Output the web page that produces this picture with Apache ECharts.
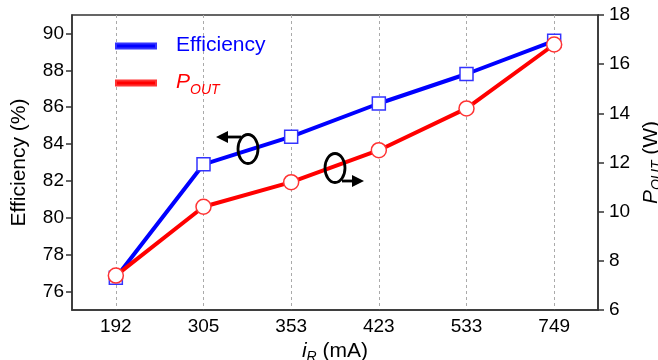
<!DOCTYPE html>
<html lang="en">
<head>
    <meta charset="UTF-8">
    <title>Efficiency and POUT vs iR</title>
    <script type="text/javascript" src="https://cdn.jsdelivr.net/npm/echarts@6/dist/echarts.min.js"></script>
    <style>
        html, body { margin: 0; padding: 0; background: #fff; }
        #main { width: 658px; height: 360px; }
    </style>
</head>
<body>
<div id="main"></div>
<script type="text/javascript">
    // data
    var currents = ['192', '305', '353', '423', '533', '749'];
    var efficiency = [76.75, 82.9, 84.4, 86.2, 87.8, 89.6];
    var pout = [7.4, 10.2, 11.2, 12.5, 14.2, 16.8];
    var effTicks = [76, 78, 80, 82, 84, 86, 88, 90];

    var font = 'Liberation Sans, Arial, sans-serif';
    var mychart = echarts.init(document.getElementById('main'));

    var subRich = {
        it: { fontFamily: font, fontSize: 21, fontStyle: 'italic', color: '#000', verticalAlign: 'top', lineHeight: 22 },
        sub: { fontFamily: font, fontSize: 14, fontStyle: 'italic', color: '#000', verticalAlign: 'top', lineHeight: 14, padding: [9, 0, 0, 0] },
        n: { fontFamily: font, fontSize: 21, color: '#000', verticalAlign: 'top', lineHeight: 22 }
    };

    var option = {
        backgroundColor: '#fff',
        animation: false,
        grid: {
            left: 72, right: 60, top: 15, bottom: 50,
            outerBoundsMode: 'none',
            containLabel: false,
            show: true, borderColor: '#333', borderWidth: 1.5, backgroundColor: 'transparent'
        },
        legend: {
            orient: 'vertical',
            left: 110, top: 30,
            itemWidth: 40, itemHeight: 5,
            itemGap: 16,
            icon: 'rect',
            data: [
                { name: 'Efficiency', itemStyle: { color: '#0000ff' }, textStyle: { color: '#0000ff' } },
                { name: 'POUT', itemStyle: { color: '#ff0000' }, textStyle: { color: '#ff0000' } }
            ],
            formatter: function (name) {
                if (name === 'POUT') return '{p|P}{s|OUT}';
                return '{e|Efficiency}';
            },
            textStyle: {
                padding: [0, 0, 0, 15],
                rich: {
                    e: { fontFamily: font, fontSize: 21, color: '#0000ff', verticalAlign: 'top', lineHeight: 22 },
                    p: { fontFamily: font, fontSize: 21, fontStyle: 'italic', color: '#ff0000', verticalAlign: 'top', lineHeight: 22 },
                    s: { fontFamily: font, fontSize: 14, fontStyle: 'italic', color: '#ff0000', verticalAlign: 'top', lineHeight: 14, padding: [11, 0, 0, 0] }
                }
            }
        },
        xAxis: {
            type: 'category',
            data: currents,
            boundaryGap: true,
            name: '{it|i}{sub|R}{n| (mA)}',
            nameLocation: 'middle',
            nameGap: 26,
            nameTextStyle: { rich: subRich },
            axisLine: { lineStyle: { color: '#333', width: 1.5 } },
            axisTick: { alignWithLabel: true, length: 5, lineStyle: { color: '#333', width: 1.5 } },
            axisLabel: { fontFamily: font, fontSize: 19, color: '#000', margin: 7 },
            splitLine: { show: true, alignWithLabel: true, lineStyle: { color: '#aaa', type: [3, 3], width: 1 } }
        },
        yAxis: [
            {
                type: 'value',
                min: 75, max: 91,
                position: 'left',
                name: 'Efficiency (%)',
                nameLocation: 'middle',
                nameRotate: 90,
                nameGap: 42,
                nameTextStyle: { fontFamily: font, fontSize: 21, color: '#000' },
                axisLine: { show: true, lineStyle: { color: '#333', width: 1.5 } },
                axisTick: { show: true, length: 6, customValues: effTicks, lineStyle: { color: '#333', width: 1.5 } },
                axisLabel: { fontFamily: font, fontSize: 19, color: '#000', margin: 8, customValues: effTicks },
                splitLine: { show: false }
            },
            {
                type: 'value',
                min: 6, max: 18, interval: 2,
                position: 'right',
                name: '{it|P}{sub|OUT}{n| (W)}',
                nameLocation: 'middle',
                nameRotate: 90,
                nameGap: 37,
                nameTextStyle: { rich: subRich },
                axisLine: { show: true, lineStyle: { color: '#333', width: 1.5 } },
                axisTick: { show: true, length: 6, lineStyle: { color: '#333', width: 1.5 } },
                axisLabel: { fontFamily: font, fontSize: 19, color: '#000', margin: 11 },
                splitLine: { show: false }
            }
        ],
        series: [
            {
                name: 'Efficiency',
                type: 'line',
                yAxisIndex: 0,
                data: efficiency,
                symbol: 'rect',
                symbolSize: 13,
                showAllSymbol: true,
                lineStyle: { color: '#0000ff', width: 4 },
                itemStyle: { color: '#fff', borderColor: '#3333ff', borderWidth: 1.5 },
                emphasis: { disabled: true },
                z: 2
            },
            {
                name: 'POUT',
                type: 'line',
                yAxisIndex: 1,
                data: pout,
                symbol: 'circle',
                symbolSize: 15,
                showAllSymbol: true,
                lineStyle: { color: '#ff0000', width: 4 },
                itemStyle: { color: '#fff', borderColor: '#ff3333', borderWidth: 1.5 },
                emphasis: { disabled: true },
                z: 3
            }
        ],
        graphic: [
            // arrow pointing to the left axis
            { type: 'ellipse', shape: { cx: 248, cy: 149, rx: 10, ry: 14.5 }, style: { fill: 'none', stroke: '#000', lineWidth: 2.8 }, z: 10 },
            { type: 'polyline', shape: { points: [[241, 137], [224, 137]] }, style: { stroke: '#000', lineWidth: 2.8 }, z: 10 },
            { type: 'polygon', shape: { points: [[216, 137], [228, 131], [228, 143]] }, style: { fill: '#000' }, z: 10 },
            // arrow pointing to the right axis
            { type: 'ellipse', shape: { cx: 335, cy: 168, rx: 10, ry: 14.5 }, style: { fill: 'none', stroke: '#000', lineWidth: 2.8 }, z: 10 },
            { type: 'polyline', shape: { points: [[342, 181], [356, 181]] }, style: { stroke: '#000', lineWidth: 2.8 }, z: 10 },
            { type: 'polygon', shape: { points: [[364, 181], [352, 175], [352, 187]] }, style: { fill: '#000' }, z: 10 }
        ]
    };
    mychart.setOption(option);
</script>
</body>
</html>
